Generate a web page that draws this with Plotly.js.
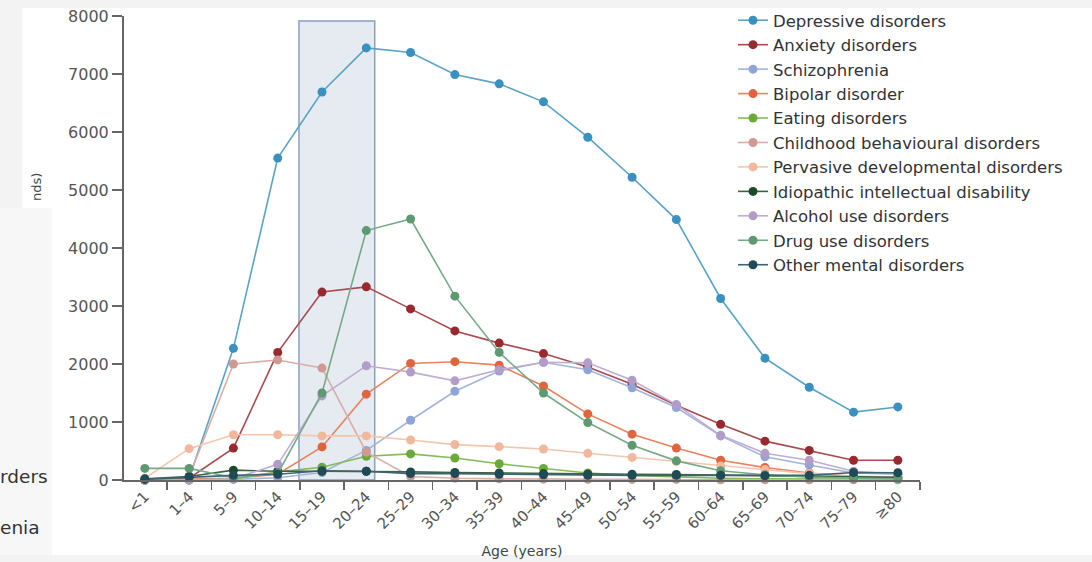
<!DOCTYPE html>
<html>
<head>
<meta charset="utf-8">
<script src="https://cdn.plot.ly/plotly-3.0.1.min.js"></script>
<style>html,body{margin:0;padding:0;background:#fff;}#chart{width:1092px;height:562px;}</style>
</head>
<body>
<div id="chart"></div>
<script>
const ageGroups = ['<1','1–4','5–9','10–14','15–19','20–24','25–29','30–34','35–39','40–44','45–49','50–54','55–59','60–64','65–69','70–74','75–79','≥80'];
const seriesNames = ['Depressive disorders','Anxiety disorders','Schizophrenia','Bipolar disorder','Eating disorders','Childhood behavioural disorders','Pervasive developmental disorders','Idiopathic intellectual disability','Alcohol use disorders','Drug use disorders','Other mental disorders'];
const depressive   = [0, 30, 2270, 5550, 6690, 7450, 7370, 6990, 6830, 6520, 5910, 5220, 4490, 3130, 2100, 1600, 1170, 1260];
const anxiety      = [0, 30, 550, 2200, 3240, 3330, 2950, 2570, 2360, 2180, 1950, 1650, 1290, 960, 670, 510, 340, 340];
const schizophrenia= [0, 0, 10, 40, 130, 510, 1030, 1530, 1880, 2030, 1900, 1590, 1250, 760, 400, 260, 120, 100];
const bipolar      = [0, 10, 30, 100, 570, 1480, 2010, 2040, 1980, 1620, 1140, 790, 550, 340, 215, 120, 60, 50];
const eating       = [0, 0, 20, 140, 220, 410, 450, 380, 280, 200, 120, 80, 50, 30, 20, 15, 10, 10];
const childhood    = [0, 60, 2000, 2070, 1930, 480, 60, 30, 20, 15, 10, 10, 10, 5, 5, 5, 5, 5];
const pervasive    = [30, 540, 780, 780, 760, 760, 690, 610, 575, 535, 460, 390, 320, 240, 180, 110, 70, 50];
const intellectual = [20, 60, 170, 150, 150, 150, 140, 130, 120, 110, 100, 100, 95, 85, 75, 65, 55, 45];
const alcohol      = [0, 0, 20, 270, 1450, 1970, 1860, 1710, 1900, 2030, 2020, 1720, 1300, 770, 460, 340, 150, 100];
const drug         = [200, 200, 40, 110, 1500, 4300, 4500, 3170, 2200, 1500, 990, 600, 330, 160, 90, 50, 30, 20];
const other        = [10, 50, 80, 100, 160, 150, 110, 110, 100, 90, 80, 80, 80, 80, 75, 80, 130, 125];
const yTicks = [0, 1000, 2000, 3000, 4000, 5000, 6000, 7000, 8000];

const allSeries = [depressive, anxiety, schizophrenia, bipolar, eating, childhood, pervasive, intellectual, alcohol, drug, other];
const colors = ['#3a90bf','#982a2f','#8ea5d6','#e0643e','#6aa93a','#cf9a92','#f2b89b','#1d4b2a','#b29dc8','#5d9a71','#1f4a58'];
const lineColors = ['#5aa2c8','#a84a4e','#a3b4dc','#e8825f','#84b95c','#d9aea7','#f4c6ad','#3a6346','#c0aed2','#76aa87','#3f6470'];

const traces = allSeries.map((vals, i) => ({
  type: 'scatter', mode: 'lines+markers',
  x: ageGroups, y: vals, name: seriesNames[i],
  line: {color: lineColors[i], width: 1.6},
  marker: {color: colors[i], size: 9, line: {width: 0}},
  cliponaxis: false
}));

const L = 124, R = 920, T = 16, B = 480;
const px = v => (v - L) / (R - L);
const py = v => (B - v) / (B - T);
const grey = '#f3f3f3';

const layout = {
  width: 1092, height: 562,
  margin: {l: L, r: 1092 - R, t: T, b: 562 - B, autoexpand: false},
  paper_bgcolor: '#ffffff', plot_bgcolor: '#ffffff',
  font: {family: 'DejaVu Sans, sans-serif', color: '#444'},
  showlegend: true,
  legend: {x: px(733), y: py(3), xanchor: 'left', yanchor: 'top',
           bgcolor: 'rgba(0,0,0,0)', font: {size: 16.5, color: '#333'},
           traceorder: 'normal'},
  xaxis: {type: 'category', range: [-0.47, 17.5], showgrid: false, zeroline: false,
          showline: true, linecolor: '#666', linewidth: 2, automargin: false,
          ticks: 'outside', tickson: 'boundaries', ticklen: 8, tickwidth: 1.5, tickcolor: '#666',
          tickangle: -45, tickfont: {size: 15, color: '#555'},
          title: {text: 'Age (years)', font: {size: 14, color: '#444'}, standoff: 14}},
  yaxis: {range: [0, 8000], showgrid: false, zeroline: false, automargin: false,
          showline: true, linecolor: '#666', linewidth: 2,
          ticks: 'outside', ticklen: 10, tickwidth: 1.5, tickcolor: '#666',
          tickmode: 'array', tickvals: yTicks, ticktext: yTicks.map(String),
          tickfont: {size: 16, color: '#555'}},
  shapes: [
    {type: 'rect', xref: 'paper', yref: 'paper', x0: px(0), x1: px(1092), y0: py(0), y1: py(8), fillcolor: grey, line: {width: 0}, layer: 'below'},
    {type: 'rect', xref: 'paper', yref: 'paper', x0: px(0), x1: px(22), y0: py(0), y1: py(208), fillcolor: grey, line: {width: 0}, layer: 'below'},
    {type: 'rect', xref: 'paper', yref: 'paper', x0: px(0), x1: px(52), y0: py(208), y1: py(562), fillcolor: '#f7f7f7', line: {width: 0}, layer: 'below'},
    {type: 'rect', xref: 'paper', yref: 'paper', x0: px(0), x1: px(1092), y0: py(555), y1: py(562), fillcolor: grey, line: {width: 0}, layer: 'below'},
    {type: 'rect', xref: 'x', yref: 'y', x0: 3.48, x1: 5.19, y0: 0, y1: 7914,
     fillcolor: 'rgba(205,216,230,0.5)', line: {color: '#8aa0bf', width: 1.5}, layer: 'below'}
  ],
  annotations: [
    {xref: 'paper', yref: 'paper', x: px(36), y: py(187), text: 'nds)', showarrow: false, textangle: -90,
     font: {size: 13, color: '#444'}, xanchor: 'center', yanchor: 'middle'},
    {xref: 'paper', yref: 'paper', x: px(-2), y: py(476), text: 'rders', showarrow: false,
     font: {size: 18.5, color: '#333'}, xanchor: 'left', yanchor: 'middle'},
    {xref: 'paper', yref: 'paper', x: px(-2), y: py(527), text: 'enia', showarrow: false,
     font: {size: 18.5, color: '#333'}, xanchor: 'left', yanchor: 'middle'}
  ]
};

Plotly.newPlot('chart', traces, layout, {displayModeBar: false, staticPlot: true});
</script>
</body>
</html>
